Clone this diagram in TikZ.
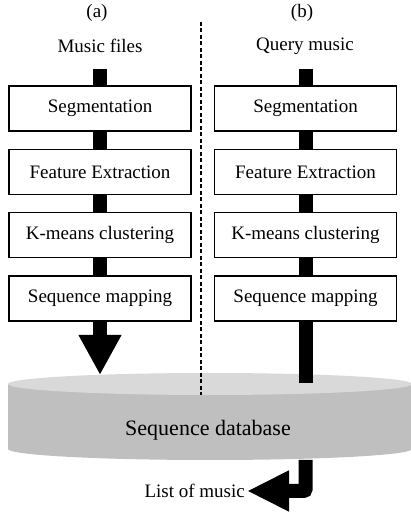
\documentclass[tikz,border=0pt]{standalone}
\usepackage{fontspec}
\setmainfont{Liberation Serif}
\usetikzlibrary{arrows.meta, positioning}

\begin{document}
\begin{tikzpicture}[x=1pt, y=1pt, node distance=17pt, every node/.style={draw=none, inner sep=2pt, font=\fontsize{19}{22}\selectfont}]
        \useasboundingbox (0,0) rectangle (411,512);
        \tikzset{
            box/.style={draw, line width=1.4pt, minimum width=182pt, minimum height=45pt, inner sep=0pt},
            bar/.style={line width=14pt},
        }

        % database
        \fill[gray!50] (8,128) -- (8,63) arc[start angle=180, end angle=360, x radius=202, y radius=11] -- (412,128) -- cycle;
        \fill[gray!30] (210,128) ellipse[x radius=202, y radius=11];
        \node[font=\fontsize{22}{26}\selectfont] (db) at (208,82) {Sequence database};

        % separator
        \coordinate (septop) at (201,490);
        \coordinate (sepbot) at (201,117);
        \draw[line width=1.4pt, dash pattern=on 4pt off 2.5pt] (septop) -- (sepbot);

        % (a)
        \node (la) at (97,499) {(a)};
        \node (files) at (100,466) {Music files};
        \node[box] (sega) at (100,403.5) {Segmentation};
        \node[box, below=of sega] (feata) {Feature Extraction};
        \node[box, below=of feata] (kma) {K-means clustering};
        \node[box, below=of kma] (mapa) {Sequence mapping};
        \coordinate (ina) at (100,443);
        \coordinate (outa) at (100,137);

        \path[bar] (ina) edge (sega);
        \path[bar] (sega) edge (feata);
        \path[bar] (feata) edge (kma);
        \path[bar] (kma) edge (mapa);
        \path[bar, -{Triangle[width=40pt, length=40pt]}] (mapa) edge (outa);

        % (b)
        \node (lb) at (302,499) {(b)};
        \node (query) at (305,466) {Query music};
        \node[box] (segb) at (305.5,403.5) {Segmentation};
        \node[box, below=of segb] (featb) {Feature Extraction};
        \node[box, below=of featb] (kmb) {K-means clustering};
        \node[box, below=of kmb] (mapb) {Sequence mapping};
        \coordinate (inb) at (305.5,443);
        \coordinate (topb) at (305.5,129);
        \coordinate (botb) at (305.5,52);

        \path[bar] (inb) edge (segb);
        \path[bar] (segb) edge (featb);
        \path[bar] (featb) edge (kmb);
        \path[bar] (kmb) edge (mapb);
        \path[bar] (mapb) edge (topb);

        % result
        \node[anchor=east] (list) at (247,21) {List of music};
        \draw[bar, rounded corners=2pt, -{Triangle[width=38pt, length=42pt]}] (botb) |- (list);
    \end{tikzpicture}
\end{document}
